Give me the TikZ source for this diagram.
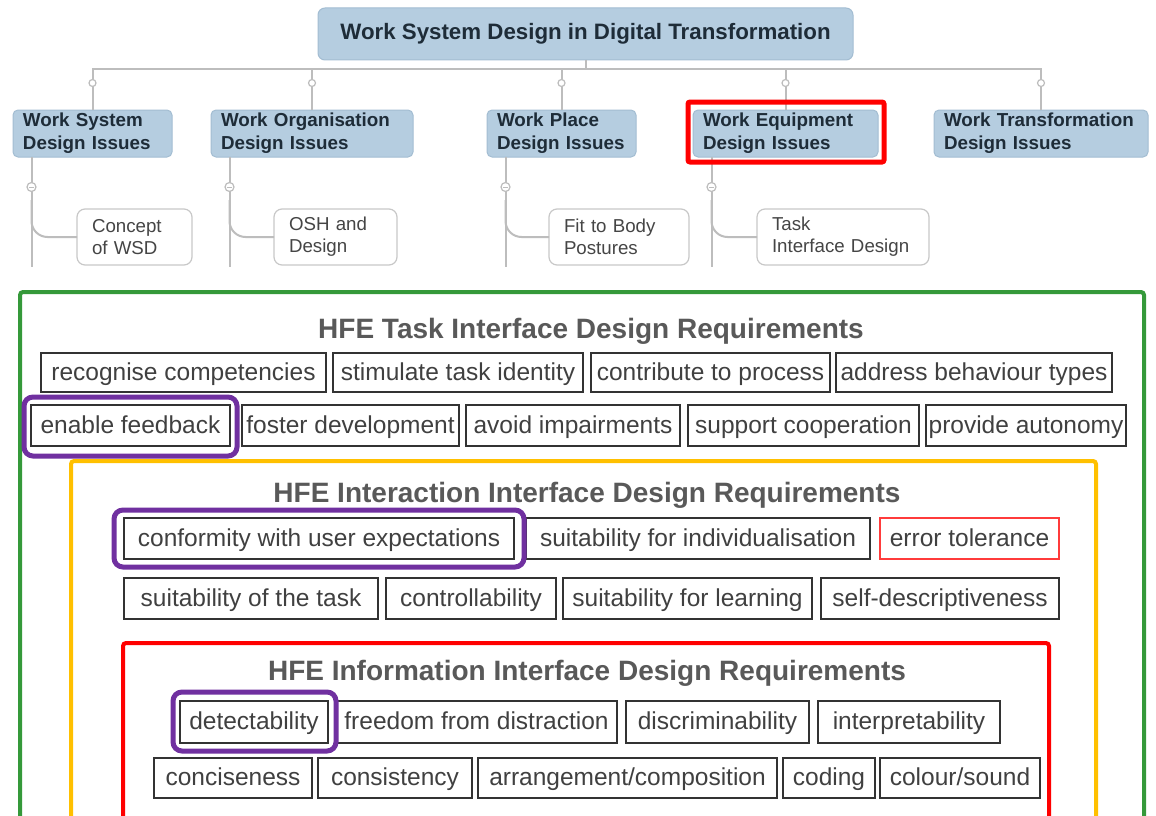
\documentclass[tikz,border=0pt]{standalone}
\usepackage{fontspec}
\setmainfont{Liberation Sans}
\usetikzlibrary{calc}
\definecolor{lvlfill}{HTML}{B5CDE0}
\definecolor{lvlborder}{HTML}{A3BDD2}
\definecolor{lvltext}{HTML}{1E2C38}
\definecolor{connc}{HTML}{BDBDBD}
\definecolor{childborder}{HTML}{C8C8C8}
\definecolor{childtext}{HTML}{454545}
\definecolor{reqtext}{HTML}{404040}
\definecolor{titletext}{HTML}{595959}
\definecolor{frgreen}{HTML}{35993A}
\definecolor{fryellow}{HTML}{FFC000}
\definecolor{frred}{HTML}{FF0000}
\definecolor{hlpurple}{HTML}{7030A0}
\definecolor{errred}{HTML}{FF3B3B}
% generic box: [style]{name}{x1}{y1}{x2}{y2}{text}
\newcommand\bx[7][]{\node[anchor=north west,inner sep=0pt,outer sep=0pt,
  minimum width={#5pt-#3pt},minimum height={#6pt-#4pt},#1] (#2) at (#3,#4) {#7};}
\begin{document}
\begin{tikzpicture}[x=1pt,y=-1pt,
  rootbox/.style={rounded corners=7pt,fill=lvlfill,draw=lvlborder,line width=1pt,
    text=lvltext,font=\bfseries\fontsize{22.3pt}{26pt}\selectfont},
  lvlbox/.style={rounded corners=5pt,fill=lvlfill,draw=lvlborder,line width=1pt,
    text=lvltext,font=\bfseries\fontsize{18.8pt}{23pt}\selectfont,align=left,
    inner xsep=10pt,text width={#1pt-20pt}},
  childbox/.style={rounded corners=8pt,fill=white,draw=childborder,line width=1.2pt,
    text=childtext,font=\fontsize{18.7pt}{22pt}\selectfont,align=left,
    inner xsep=15pt,text width={#1pt-30pt}},
  conn/.style={draw=connc,line width=2pt},
  stubdot/.style={circle,draw=connc,fill=white,line width=1.2pt,inner sep=0pt,minimum size=7pt},
  req/.style={draw=black!80,line width=1.3pt,text=reqtext,fill=white,
    font=\fontsize{24.5pt}{28pt}\selectfont,text height=18pt,text depth=3pt},
  errbox/.style={draw=errred,line width=1.2pt,text=reqtext,fill=white,
    font=\fontsize{24.5pt}{28pt}\selectfont,text height=18pt,text depth=3pt},
  hlpur/.style={draw=hlpurple,line width=5pt,rounded corners=9pt},
  hlred/.style={draw=frred,line width=5pt,rounded corners=2pt},
  frame/.style={line width=4pt,rounded corners=3pt},
  title/.style={text=titletext,font=\bfseries\fontsize{28pt}{32pt}\selectfont,inner sep=0pt}
]
\useasboundingbox (0,0) rectangle (1156,816);
\fill[white] (0,0) rectangle (1156,816);

% ---------------- top tree ----------------
\bx[rootbox]{root}{318}{8}{853}{60}{Work System Design in Digital Transformation}
\bx[lvlbox=159]{l2a}{13}{110}{172}{157}{Work System\\Design Issues}
\bx[lvlbox=202]{l2b}{211}{110}{413}{157}{Work Organisation\\Design Issues}
\bx[lvlbox=149]{l2c}{487}{110}{636}{157}{Work Place\\Design Issues}
\bx[lvlbox=185]{l2d}{693}{110}{878}{157}{Work Equipment\\Design Issues}
\bx[lvlbox=214]{l2e}{934}{110}{1148}{157}{Work Transformation\\Design Issues}

\draw[conn] (root.south) -- ++(0,9) coordinate (bar);
\foreach \n in {l2a,l2b,l2c,l2d,l2e}{
  \draw[conn] (\n.north) |- (bar);
  \node[stubdot] at (\n.north |- 0,83) {};
}

\bx[childbox=115]{c1}{77}{209}{192}{265}{Concept\\of WSD}
\bx[childbox=123]{c2}{274}{209}{397}{265}{OSH and\\Design}
\bx[childbox=140]{c3}{549}{209}{689}{265}{Fit to Body\\Postures}
\bx[childbox=172]{c4}{757}{209}{929}{265}{Task\\Interface Design}

\foreach \p/\c in {l2a/c1,l2b/c2,l2c/c3,l2d/c4}{
  \coordinate (v) at ($(\p.south west)+(18.5,0)$);
  \draw[conn] (v) -- (v |- 0,267);
  \draw[conn,rounded corners=16pt] (v |- 0,200) |- (\c.west);
  \node[stubdot,minimum size=9pt] (cl) at (v |- 0,187) {};
  \draw[connc,line width=1pt] ($(cl.center)+(-2.5,0)$) -- ($(cl.center)+(2.5,0)$);
}
\bx[hlred]{hlEquip}{688}{102}{884}{162}{}

% ---------------- frames ----------------
\draw[frame,draw=frgreen] (20,818) -- (20,292) -- (1144,292) -- (1144,818);
\draw[frame,draw=fryellow] (71,818) -- (71,461) -- (1096,461) -- (1096,818);
\draw[frame,draw=frred] (123,818) -- (123,643) -- (1049,643) -- (1049,818);

% ---------------- task requirements ----------------
\node[title] (ttask) at (591,331) {HFE Task Interface Design Requirements};
\bx[req]{t1}{41}{353}{326}{392}{recognise competencies}
\bx[req]{t2}{333}{353}{583}{392}{stimulate task identity}
\bx[req]{t3}{591}{353}{830}{392}{contribute to process}
\bx[req]{t4}{836}{353}{1112}{392}{address behaviour types}
\bx[req]{t5}{31}{405}{230}{446}{enable feedback}
\bx[req]{t6}{242}{405}{459}{446}{foster development}
\bx[req]{t7}{466}{405}{680}{446}{avoid impairments}
\bx[req]{t8}{688}{405}{919}{446}{support cooperation}
\bx[req]{t9}{926}{405}{1126}{446}{provide autonomy}
\bx[hlpur]{p1}{24}{397}{237}{456}{}

% ---------------- interaction requirements ----------------
\node[title] (tinter) at (587,495) {HFE Interaction Interface Design Requirements};
\bx[req]{i1}{124}{518}{514}{559}{conformity with user expectations}
\bx[req]{i2}{526}{518}{870}{559}{suitability for individualisation}
\bx[errbox]{i3}{880}{518}{1059}{559}{error tolerance}
\bx[req]{i4}{124}{578}{378}{619}{suitability of the task}
\bx[req]{i5}{386}{578}{556}{619}{controllability}
\bx[req]{i6}{563}{578}{812}{619}{suitability for learning}
\bx[req]{i7}{821}{578}{1059}{619}{self-descriptiveness}
\bx[hlpur]{p2}{114}{510}{524}{567}{}

% ---------------- information requirements ----------------
\node[title] (tinfo) at (587,673) {HFE Information Interface Design Requirements};
\bx[req]{f1}{180}{701}{328}{743}{detectability}
\bx[req]{f2}{336}{701}{617}{743}{freedom from distraction}
\bx[req]{f3}{626}{701}{809}{743}{discriminability}
\bx[req]{f4}{818}{701}{1000}{743}{interpretability}
\bx[req]{f5}{154}{758}{312}{798}{conciseness}
\bx[req]{f6}{318}{758}{472}{798}{consistency}
\bx[req]{f7}{478}{758}{777}{798}{arrangement/composition}
\bx[req]{f8}{783}{758}{875}{798}{coding}
\bx[req]{f9}{880}{758}{1040}{798}{colour/sound}
\bx[hlpur]{p3}{173}{692}{336}{751}{}
\end{tikzpicture}
\end{document}
